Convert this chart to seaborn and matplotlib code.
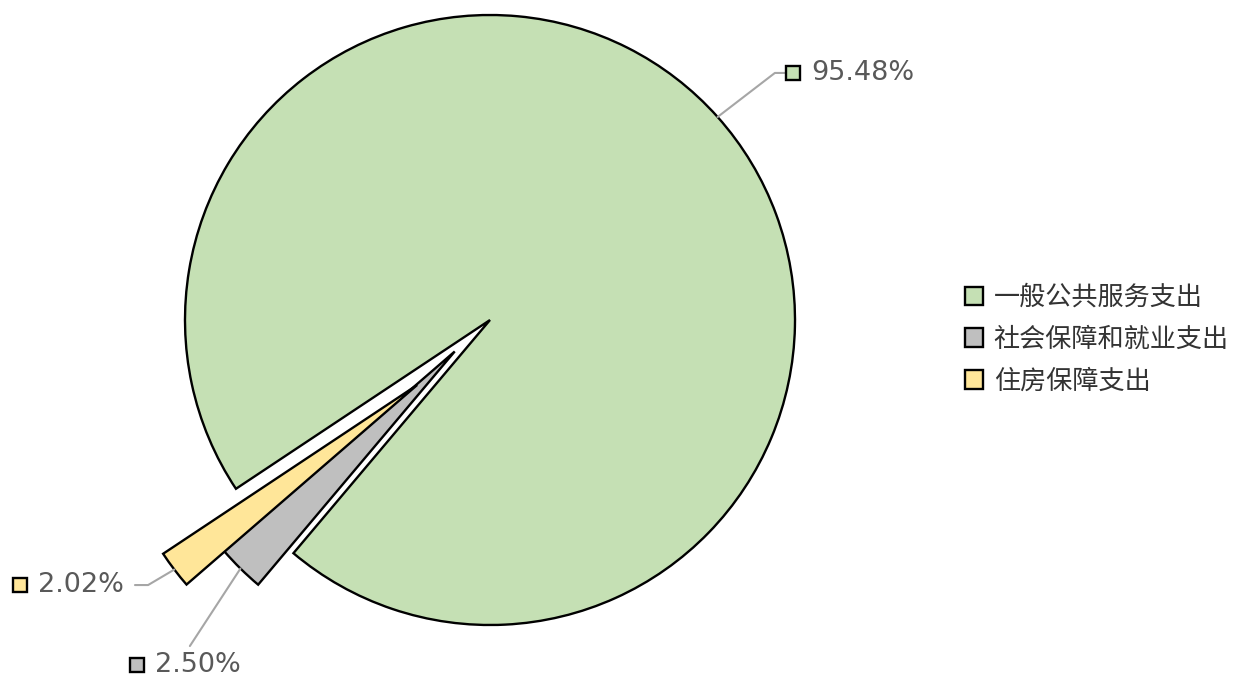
import numpy as np
import matplotlib
matplotlib.use('Agg')
import matplotlib.pyplot as plt
import seaborn as sns

# spending shares (%)
categories = ['一般公共服务支出', '社会保障和就业支出', '住房保障支出']
shares = [95.48, 2.50, 2.02]
pct_labels = ['95.48%', '2.50%', '2.02%']
colors = ['#c5e0b4', '#bfbfbf', '#ffe699']
pull = [0.0, 0.155, 0.32]

sns.set_theme(style='white')
plt.rcParams['font.family'] = ['Noto Sans CJK SC', 'DejaVu Sans']

fig = plt.figure(figsize=(12.48, 6.79), dpi=100)
ax = fig.add_axes([0, 0, 1, 1])
wedges, _ = ax.pie(shares, colors=colors, startangle=213.6, counterclock=False,
                   wedgeprops=dict(edgecolor='black', linewidth=1.7))
ax.set_xlim(-490 / 305, (1248 - 490) / 305)
ax.set_ylim((320 - 679) / 305, 320 / 305)
ax.set_aspect('auto')
ax.axis('off')

# pull the two small slices out along their shared direction
ang = np.deg2rad((wedges[2].theta1 + wedges[1].theta2) / 2)
for w, d in zip(wedges, pull):
    w.set_center((d * np.cos(ang), d * np.sin(ang)))

def edge_point(w):
    m = np.deg2rad((w.theta1 + w.theta2) / 2)
    cx, cy = w.center
    return cx + w.r * np.cos(m), cy + w.r * np.sin(m)

# label layout: (leader path after edge point, marker pos, text pos)
layout = [
    ([(0.934, 0.810), (0.966, 0.810)], (0.993, 0.810), (1.053, 0.810)),
    ([(-0.984, -1.069)], (-1.157, -1.131), (-1.097, -1.131)),
    ([(-1.121, -0.869), (-1.164, -0.869)], (-1.541, -0.869), (-1.481, -0.869)),
]
for w, lab, col, (path, mpos, tpos) in zip(wedges, pct_labels, colors, layout):
    pts = [edge_point(w)] + path
    ax.plot([p[0] for p in pts], [p[1] for p in pts], color='#a6a6a6', lw=1.5)
    ax.plot([mpos[0]], [mpos[1]], marker='s', ms=10, mfc=col, mec='black',
            mew=1.7, ls='none')
    ax.text(tpos[0], tpos[1], lab, ha='left', va='center', fontsize=19.5,
            color='#595959', family='DejaVu Sans')

ax.legend(wedges, categories, loc='upper left', bbox_to_anchor=(0.7732, 0.582),
          bbox_transform=fig.transFigure, frameon=False, fontsize=18.8,
          handlelength=0.7, handleheight=0.7, handletextpad=0.4,
          labelspacing=0.57, borderpad=0, borderaxespad=0, labelcolor='#333333')

fig.savefig('out.png', dpi=100)
